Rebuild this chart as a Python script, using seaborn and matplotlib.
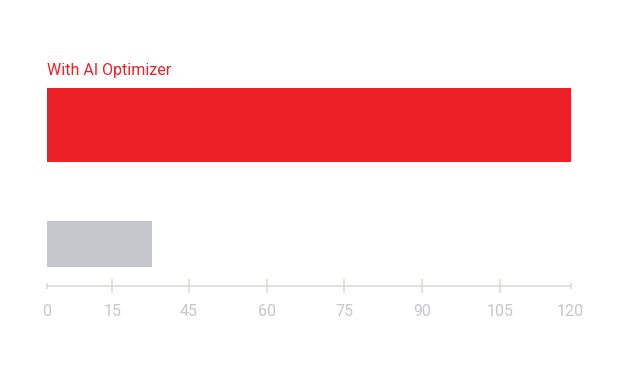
import numpy as np
import pandas as pd
import seaborn as sns
import matplotlib.pyplot as plt

# data
categories = ["With AI Optimizer", "Without"]
values = [120, 24]
bar_colors = ["#ed2027", "#c5c6cb"]
bar_heights = [0.62, 0.385]
tick_values = [0, 15, 32.6, 50.4, 68.1, 86, 103.8, 120]
tick_labels = ["0", "15", "45", "60", "75", "90", "105", "120"]

sns.set_theme(style="white")
plt.rcParams['font.family'] = ['Roboto', 'DejaVu Sans']

df = pd.DataFrame({"label": categories, "value": values})

fig = plt.figure(figsize=(6.27, 3.72), dpi=100)
ax = fig.add_axes([46.7 / 627, (372 - 285.7) / 372, 524 / 627, 220.7 / 372])

sns.barplot(data=df, x="value", y="label", hue="label", palette=bar_colors,
            orient="h", legend=False, ax=ax, width=0.62, saturation=1)

# each bar gets its own thickness, centred on its category
for patch, h in zip(ax.patches, bar_heights):
    yc = patch.get_y() + patch.get_height() / 2
    patch.set_y(yc - h / 2)
    patch.set_height(h)
    patch.set_linewidth(0)

ax.set_xlim(0, 120)
ax.set_ylim(1.35, -0.5)
ax.set_xlabel("")
ax.set_ylabel("")
ax.set_yticks([])
ax.set_xticks(tick_values)
ax.set_xticklabels(tick_labels)

for side in ["top", "right", "left"]:
    ax.spines[side].set_visible(False)
ax.spines["bottom"].set_color("#dcdce0")
ax.spines["bottom"].set_linewidth(1.2)

ax.tick_params(axis="x", direction="inout", length=9.5, width=1.2,
               color="#dcdce0", labelcolor="#c6c6cb", labelsize=11.5, pad=8.5,
               bottom=True)
ticks = ax.xaxis.get_major_ticks()
ticks[0].tick1line.set_markersize(4.5)
ticks[-1].tick1line.set_markersize(4.5)

ax.annotate(categories[0], xy=(0, -0.31), xytext=(0, 9), textcoords="offset points",
            ha="left", va="baseline", color="#ed2027", fontsize=11.5)

fig.savefig("out.png", dpi=100)
